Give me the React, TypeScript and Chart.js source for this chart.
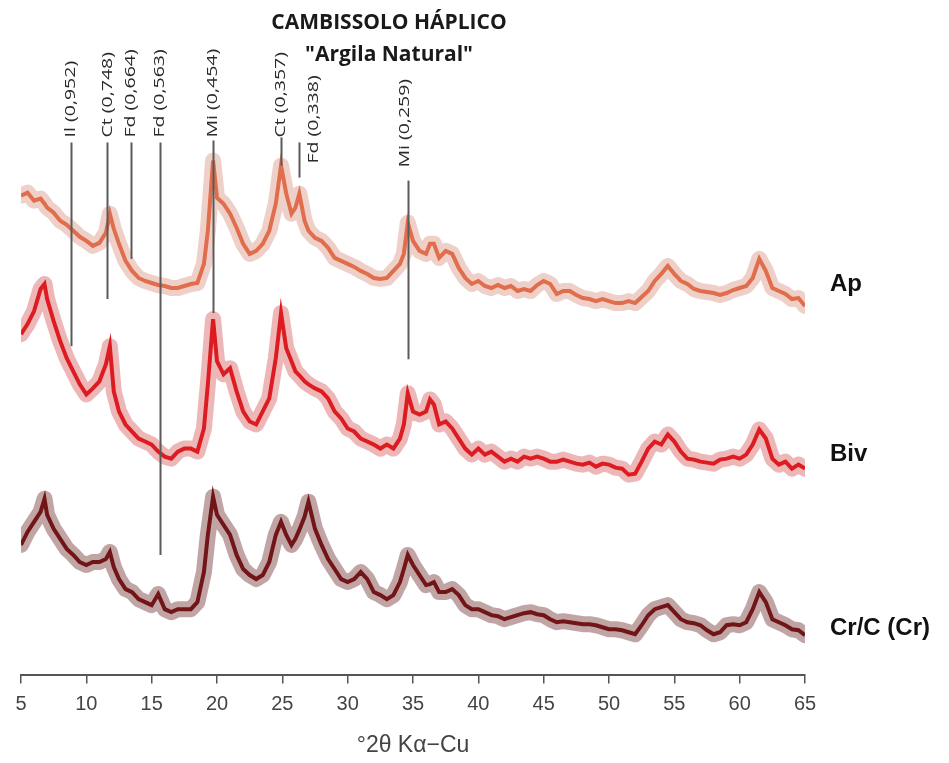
import React, { useEffect, useRef } from 'react';
import { Chart, registerables } from 'chart.js';

Chart.register(...registerables);

// 2θ positions (degrees, Cu Kα)
const twoTheta = [
  5, 5.5, 6, 6.5, 6.8, 7, 7.5, 8, 8.5, 9,
  9.5, 10, 10.5, 11, 11.5, 11.8, 12.1, 12.5, 13, 13.5,
  14, 14.5, 15, 15.5, 16, 16.5, 17, 17.5, 18, 18.5,
  19, 19.3, 19.7, 20, 20.5, 21, 21.5, 22, 22.5, 23,
  23.5, 24, 24.5, 24.9, 25.3, 25.7, 26, 26.3, 26.7, 27,
  27.5, 28, 28.5, 29, 29.5, 30, 30.5, 31, 31.5, 32,
  32.5, 33, 33.5, 34, 34.3, 34.6, 35, 35.5, 36, 36.3,
  36.6, 37, 37.5, 38, 38.5, 39, 39.5,
  40, 40.5, 41, 41.5, 42, 42.5, 43, 43.5, 44, 44.5,
  45, 45.5, 46, 46.5, 47, 47.5, 48, 48.5, 49, 49.5,
  50, 50.5, 51, 51.5, 52, 52.5, 53, 53.5, 54, 54.5,
  55, 55.5, 56, 56.5, 57, 57.5, 58, 58.5, 59, 59.5,
  60, 60.5, 61, 61.5, 62, 62.5, 63, 63.5, 64, 64.5,
  65,
];

// stacked intensities (arbitrary units, offsets included as plotted)
const apIntensity = [
  478, 481, 473, 475, 470, 466, 461, 453, 449, 443,
  437, 433, 428, 431, 441, 460, 445, 430, 413, 403,
  396, 393, 391, 389, 388, 386, 386, 388, 390, 391,
  410, 443, 513, 476, 470, 460, 446, 430, 420, 423,
  430, 443, 470, 508, 480, 460, 466, 480, 453, 443,
  436, 433, 426, 416, 413, 410, 407, 403, 400, 396,
  395, 396, 403, 410, 420, 451, 433, 423, 420, 430,
  430, 416, 423, 420, 406, 396, 390,
  393, 388, 386, 389, 386, 388, 383, 385, 383, 389,
  393, 390, 380, 383, 383, 379, 376, 375, 373, 375,
  373, 371, 371, 373, 371, 377, 383, 393, 400, 408,
  400, 393, 390, 385, 383, 382, 381, 379, 381, 384,
  386, 388, 396, 415, 403, 386, 383, 380, 375, 376,
  368,
];

const bivIntensity = [
  340, 350, 363, 385, 390, 375, 353, 333, 316, 303,
  290, 280, 286, 293, 310, 328, 283, 263, 250, 243,
  236, 233, 230, 223, 218, 216, 223, 226, 226, 223,
  246, 290, 355, 313, 300, 306, 283, 263, 253, 250,
  263, 276, 316, 361, 326, 313, 303, 299, 293, 290,
  286, 283, 276, 263, 256, 246, 243, 236, 233, 230,
  226, 230, 226, 236, 250, 281, 263, 260, 263, 275,
  270, 250, 253, 246, 236, 226, 220,
  226, 220, 223, 218, 213, 216, 213, 218, 216, 218,
  216, 213, 213, 215, 213, 211, 210, 212, 208, 211,
  210, 207, 206, 200, 201, 213, 226, 233, 230, 240,
  233, 223, 216, 215, 213, 212, 211, 215, 216, 218,
  216, 220, 230, 245, 236, 216, 210, 213, 206, 210,
  206,
];

const crIntensity = [
  130, 143, 153, 163, 176, 160, 146, 136, 126, 120,
  113, 110, 113, 113, 116, 123, 108, 96, 86, 83,
  76, 73, 70, 81, 66, 63, 66, 66, 66, 73,
  103, 140, 178, 160, 150, 140, 120, 106, 100, 96,
  100, 113, 140, 153, 140, 130, 136, 145, 158, 173,
  146, 130, 116, 106, 96, 93, 96, 103, 96, 83,
  80, 76, 80, 93, 106, 120, 110, 100, 90, 91,
  93, 83, 83, 86, 80, 70, 66,
  66, 63, 60, 59, 56, 58, 60, 62, 63, 61,
  60, 56, 53, 54, 53, 52, 51, 51, 50, 48,
  46, 46, 45, 43, 41, 50, 60, 66, 68, 70,
  63, 56, 53, 52, 50, 45, 41, 43, 50, 51,
  50, 53, 66, 83, 73, 56, 53, 50, 46, 45,
  40,
];

const seriesNames = ['Ap', 'Biv', 'Cr/C (Cr)'];
const seriesLabelLevel = [390, 220, 47];
const xTicks = [5, 10, 15, 20, 25, 30, 35, 40, 45, 50, 55, 60, 65];

const peakLabels = ['Il (0,952)', 'Ct (0,748)', 'Fd (0,664)', 'Fd (0,563)', 'Mi (0,454)', 'Ct (0,357)', 'Fd (0,338)', 'Mi (0,259)'];
const peakTwoTheta = [8.8, 11.6, 13.4, 15.6, 19.7, 24.9, 26.3, 34.6];
const peakLineTop = [531, 531, 531, 531, 533, 536, 531, 493];
const peakLineBottom = [328, 375, 415, 120, 361, 508, 496, 315];
const peakTextBase = [536, 536, 536, 536, 536, 536, 510, 506];
const peakTextShift = [0, 0, 0, 0, 0, 0, 14, -3];

const titleLines = ['CAMBISSOLO HÁPLICO', '"Argila Natural"'];

const pts = (arr: number[]) => twoTheta.map((x, i) => ({ x, y: arr[i] }));

const annotationPlugin = {
  id: 'xrdAnnotations',
  afterDatasetsDraw(chart: any) {
    const { ctx, scales } = chart;
    const xs = scales.x;
    const ys = scales.y;
    ctx.save();
    // peak reference lines
    ctx.strokeStyle = '#5a5a5a';
    ctx.lineWidth = 2;
    peakTwoTheta.forEach((t, i) => {
      const px = Math.round(xs.getPixelForValue(t)) + 0.5;
      ctx.beginPath();
      ctx.moveTo(px, ys.getPixelForValue(peakLineTop[i]));
      ctx.lineTo(px, ys.getPixelForValue(peakLineBottom[i]));
      ctx.stroke();
    });
    // rotated labels
    ctx.fillStyle = '#2a2a2a';
    ctx.font = '15px "Open Sans"';
    ctx.textBaseline = 'middle';
    ctx.textAlign = 'left';
    peakLabels.forEach((lab, i) => {
      const px = xs.getPixelForValue(peakTwoTheta[i]) + peakTextShift[i];
      const py = ys.getPixelForValue(peakTextBase[i]);
      ctx.save();
      ctx.translate(px, py);
      ctx.rotate(-Math.PI / 2);
      ctx.scale(1.3, 1);
      ctx.fillText(lab, 0, 0);
      ctx.restore();
    });
    // series names
    ctx.fillStyle = '#111';
    ctx.font = 'bold 24px "Liberation Sans", Arial';
    ctx.textAlign = 'left';
    seriesNames.forEach((n, i) => {
      ctx.fillText(n, chart.chartArea.right + 25, ys.getPixelForValue(seriesLabelLevel[i]));
    });
    // title
    ctx.fillStyle = '#1a1a1a';
    ctx.font = 'bold 21px "Open Sans"';
    ctx.textAlign = 'center';
    ctx.fillText(titleLines[0], 389, 23);
    ctx.fillText(titleLines[1], 389, 55);
    ctx.restore();
  },
};

export default function App() {
  const ref = useRef<HTMLCanvasElement | null>(null);
  useEffect(() => {
    if (!ref.current) return;
    const band = (arr: number[], color: string) => ({
      data: pts(arr),
      borderColor: color,
      borderWidth: 16,
      pointRadius: 0,
      tension: 0,
      borderJoinStyle: 'round' as const,
      borderCapStyle: 'round' as const,
    });
    const core = (arr: number[], color: string) => ({
      data: pts(arr),
      borderColor: color,
      borderWidth: 4,
      pointRadius: 0,
      tension: 0,
    });
    const chart = new Chart(ref.current, {
      type: 'line',
      data: {
        datasets: [
          band(apIntensity, 'rgba(210,120,100,0.35)'),
          core(apIntensity, '#e8673f'),
          band(bivIntensity, 'rgba(205,50,50,0.35)'),
          core(bivIntensity, '#e3121a'),
          band(crIntensity, 'rgba(100,30,30,0.4)'),
          core(crIntensity, '#7a0f14'),
        ],
      },
      options: {
        responsive: false,
        animation: false,
        events: [],
        layout: { padding: { top: 13, left: 21, right: 144, bottom: 4 } },
        plugins: { legend: { display: false }, tooltip: { enabled: false } },
        scales: {
          x: {
            type: 'linear',
            min: 5,
            max: 65,
            afterBuildTicks: (axis: any) => {
              axis.ticks = xTicks.map((v) => ({ value: v }));
            },
            ticks: {
              color: '#444',
              font: { family: '"Liberation Sans", Arial', size: 20 },
              padding: 9,
              maxRotation: 0,
              autoSkip: false,
            },
            grid: { drawOnChartArea: false, drawTicks: true, tickLength: 8, color: '#555', lineWidth: 1.5 },
            border: { display: true, color: '#555', width: 2 },
            title: {
              display: true,
              text: '°2θ Kα−Cu',
              color: '#444',
              font: { family: '"Liberation Sans", Arial', size: 23 },
              padding: { top: 6, bottom: 0 },
            },
          },
          y: { display: false, min: 0, max: 660 },
        },
      },
      plugins: [annotationPlugin],
    });
    return () => chart.destroy();
  }, []);
  return (
    <div style={{ position: 'absolute', left: 0, top: 0, width: 949, height: 763, background: '#fff' }}>
      <canvas ref={ref} width={949} height={763} />
    </div>
  );
}
